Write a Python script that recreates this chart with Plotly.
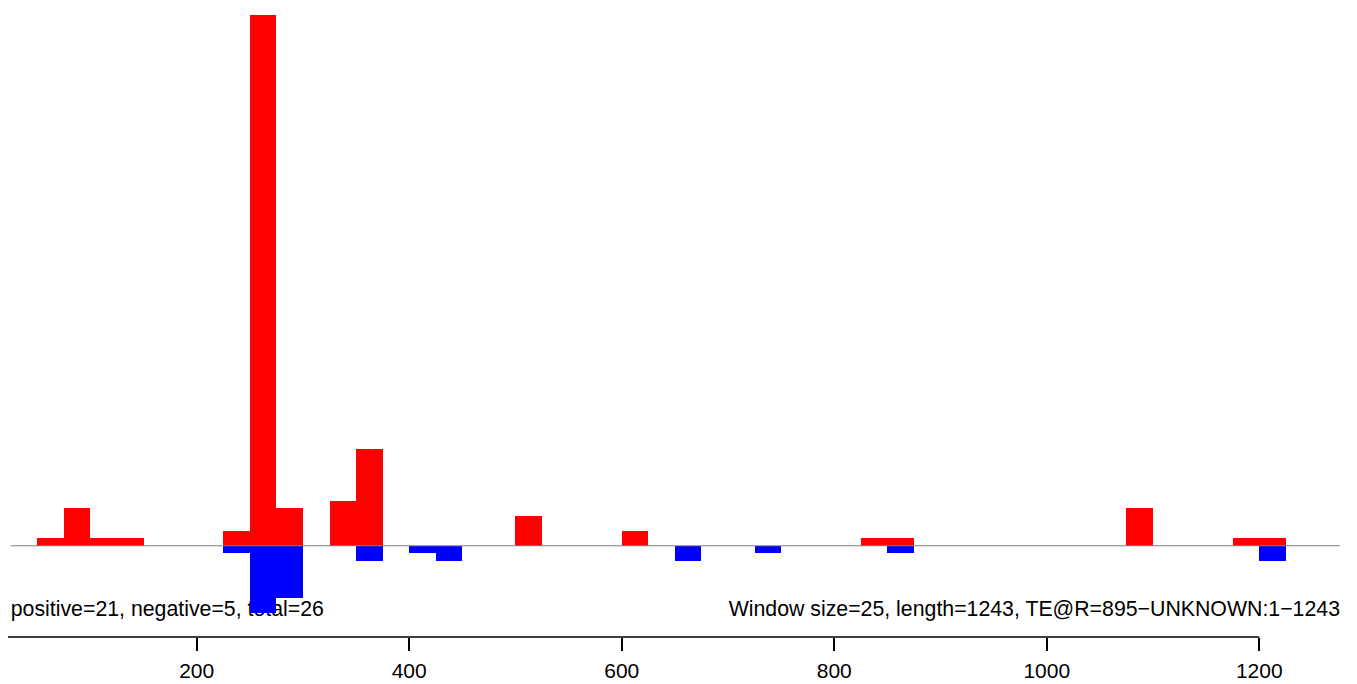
import plotly.graph_objects as go

# ---- data (window size 25) ----
window_size = 25
pos_start = [50, 75, 100, 125, 225, 250, 275, 325, 350, 500, 600, 825, 850, 1075, 1175, 1200]
pos_count = [1, 5, 1, 1, 2, 71, 5, 6, 13, 4, 2, 1, 1, 5, 1, 1]
neg_start = [225, 250, 275, 350, 400, 425, 650, 725, 850, 1200]
neg_count = [1, 9, 7, 2, 1, 2, 2, 1, 1, 2]
tick_vals = [200, 400, 600, 800, 1000, 1200]
left_label = "positive=21, negative=5, total=26"
right_label = "Window size=25, length=1243, TE@R=895\u2212UNKNOWN:1\u22121243"

# ---- layout constants (page body has an 8px margin) ----
XRANGE = [22.4, 1292.0]
YRANGE = [-12.2, 71.9]
XLIM = [25, 1276]
TEXT_Y = -8.71
FONT = "Liberation Sans, Arial, sans-serif"

pos_x = [s + window_size / 2 for s in pos_start]
neg_x = [s + window_size / 2 for s in neg_start]
neg_y = [-c for c in neg_count]

fig = go.Figure()

# text drawn on base axes (beneath bars)
fig.add_trace(go.Scatter(
    x=[XLIM[0], XLIM[1]], y=[TEXT_Y, TEXT_Y], mode="text",
    text=[left_label, right_label],
    textposition=["middle right", "middle left"],
    textfont=dict(family=FONT, size=21.3, color="black"),
    hoverinfo="skip", showlegend=False, xaxis="x", yaxis="y",
))

fig.add_trace(go.Bar(
    x=pos_x, y=pos_count, width=window_size, marker=dict(color="#FF0000", line=dict(width=0)),
    xaxis="x2", yaxis="y2", showlegend=False,
))
fig.add_trace(go.Bar(
    x=neg_x, y=neg_y, width=window_size, marker=dict(color="#0000FF", line=dict(width=0)),
    xaxis="x2", yaxis="y2", showlegend=False,
))

fig.update_layout(
    width=1349, height=676,
    margin=dict(l=0, r=0, t=0, b=47),
    paper_bgcolor="white", plot_bgcolor="white",
    barmode="overlay", bargap=0,
    showlegend=False,
    xaxis=dict(range=XRANGE, showgrid=False, zeroline=False, showline=False,
               tickvals=tick_vals, ticks="outside", ticklen=13, tickwidth=1.5,
               ticklabelstandoff=2,
               tickcolor="black", tickfont=dict(family=FONT, size=21, color="black")),
    yaxis=dict(range=YRANGE, visible=False, showgrid=False, zeroline=False),
    xaxis2=dict(range=XRANGE, overlaying="x", visible=False),
    yaxis2=dict(range=YRANGE, overlaying="y", visible=False),
    shapes=[
        dict(type="line", xref="x", yref="y", x0=XLIM[0], x1=XLIM[1], y0=0, y1=0,
             line=dict(color="#808080", width=1), layer="above"),
        dict(type="line", xref="x", yref="paper", x0=0, x1=tick_vals[-1], y0=0, y1=0,
             line=dict(color="black", width=1.5), layer="above"),
    ],
)

fig.write_html("out.html")
